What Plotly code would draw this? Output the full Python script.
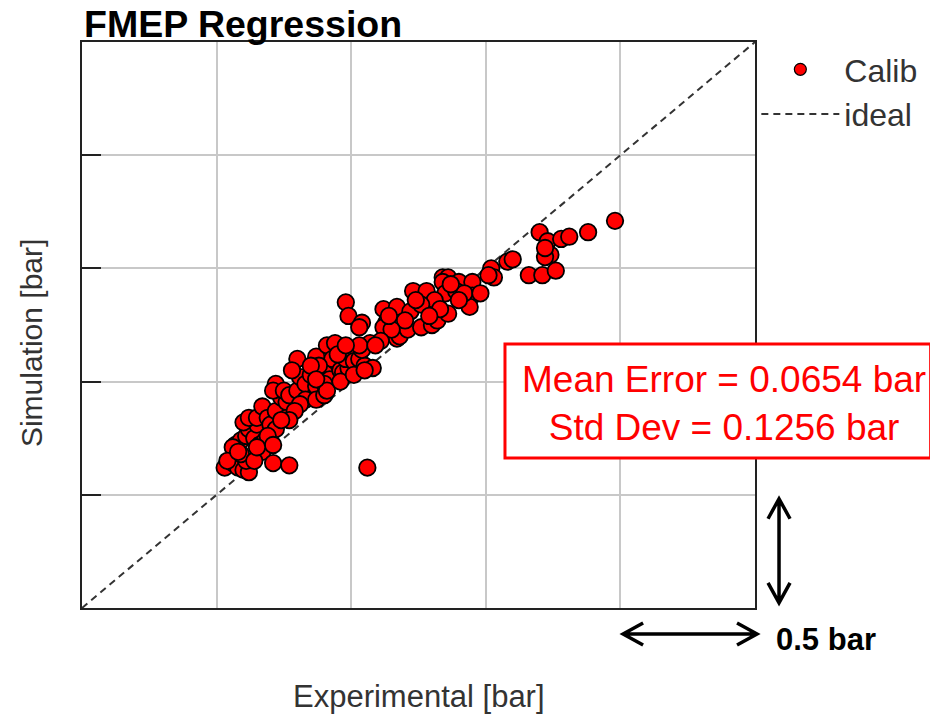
import plotly.graph_objects as go

# Axis extent and grid spacing (bar)
X_MAX = 2.5
Y_MAX = 2.5
GRID_STEP = 0.5
SCALE_BAR = 0.5

# Calibration points: experimental vs simulated FMEP (bar)
exp_fmep = [
    0.53, 0.56, 0.58, 0.60, 0.62, 0.61, 0.59, 0.57, 0.59, 0.61, 0.62, 0.64, 0.66,
    0.67, 0.68, 0.65, 0.60, 0.62, 0.65, 0.67, 0.69, 0.70, 0.72, 0.69, 0.71, 0.71,
    0.77, 0.72, 0.74, 0.76, 0.76, 0.72, 0.71, 0.75, 0.77, 0.80, 0.81, 0.80, 0.78,
    0.83, 0.85, 0.86, 0.87, 0.83, 0.81, 0.79, 0.77, 0.74, 0.64, 0.65, 0.56, 0.54,
    0.58,
    0.87, 0.90, 0.91, 0.94, 0.93, 0.92, 0.96, 0.97, 0.99, 0.98, 1.00, 1.01, 1.03,
    1.05, 1.08, 1.07, 1.04, 1.03, 0.88, 0.90, 0.95, 0.98, 0.87, 0.90, 0.91, 0.96,
    1.01, 1.05, 0.85, 0.87,
    0.98, 0.99, 1.04, 1.03,
    1.12, 1.13, 1.17, 1.17, 1.12, 1.18, 1.21, 1.22, 1.23, 1.26, 1.28, 1.28, 1.30,
    1.32, 1.34, 1.36, 1.34, 1.35, 1.36, 1.40, 1.45, 1.45, 1.44, 1.39, 1.42, 1.31,
    1.26, 1.20, 1.15, 1.11, 1.09, 1.14, 1.24, 1.37, 1.40, 1.33, 1.29,
    1.48, 1.52, 1.53, 1.51, 1.58, 1.60, 1.66, 1.70, 1.71, 1.73, 1.73, 1.74, 1.72,
    1.76, 1.78, 1.81, 1.88, 1.98, 1.72,
    1.06,
]
sim_fmep = [
    0.62, 0.64, 0.62, 0.61, 0.60, 0.65, 0.68, 0.72, 0.74, 0.76, 0.79, 0.75, 0.72,
    0.69, 0.74, 0.81, 0.82, 0.84, 0.84, 0.89, 0.84, 0.81, 0.79, 0.76, 0.72, 0.64,
    0.63, 0.87, 0.93, 0.91, 0.84, 0.99, 0.96, 0.96, 0.94, 0.96, 1.02, 1.10, 1.05,
    0.99, 1.03, 0.93, 0.98, 0.92, 0.90, 0.87, 0.83, 0.83, 0.65, 0.71, 0.71, 0.65,
    0.69,
    1.11, 1.04, 1.16, 1.17, 1.10, 1.01, 1.05, 1.04, 1.06, 1.10, 1.14, 1.09, 1.10,
    1.07, 1.06, 1.17, 1.14, 1.16, 1.07, 0.99, 1.12, 1.16, 0.92, 0.94, 0.96, 1.00,
    1.03, 1.05, 1.07, 1.01,
    1.35, 1.29, 1.26, 1.24,
    1.32, 1.26, 1.33, 1.19, 1.24, 1.20, 1.23, 1.31, 1.40, 1.24, 1.37, 1.40, 1.25,
    1.27, 1.46, 1.46, 1.44, 1.39, 1.30, 1.44, 1.44, 1.38, 1.33, 1.40, 1.39, 1.36,
    1.34, 1.27, 1.23, 1.18, 1.16, 1.29, 1.36, 1.43, 1.36, 1.32, 1.29,
    1.39, 1.50, 1.46, 1.47, 1.53, 1.54, 1.47, 1.66, 1.47, 1.62, 1.57, 1.56, 1.55,
    1.49, 1.63, 1.64, 1.66, 1.71, 1.59,
    0.62,
]

# Ideal agreement line y = x across the full axis
ideal_line = [0.0, X_MAX]

mean_error = 0.0654
std_dev = 0.1256

FONT = "Liberation Sans, Arial, sans-serif"
RED = "#ff0000"

fig = go.Figure()

fig.add_trace(go.Scatter(
    x=ideal_line, y=ideal_line, mode="lines", name="ideal", legendrank=2,
    line=dict(color="#333333", width=2, dash="7px,5px"),
    hoverinfo="skip",
))
fig.add_trace(go.Scatter(
    x=exp_fmep, y=sim_fmep, mode="markers", name="Calib", showlegend=False,
    legendgroup="calib",
    marker=dict(size=16.5, color=RED, line=dict(color="#000000", width=1.8)),
))
# Legend entry for the calibration points with a smaller symbol
fig.add_trace(go.Scatter(
    x=[None], y=[None], mode="markers", name="Calib", legendrank=1,
    legendgroup="calib",
    marker=dict(size=12, color=RED, line=dict(color="#000000", width=1.2)),
))

axis_common = dict(
    dtick=GRID_STEP, tick0=0, showgrid=True, gridcolor="#c8c8c8", gridwidth=1.5,
    showticklabels=False, showline=True, linecolor="#222222", linewidth=2,
    mirror=True, zeroline=False,
)

# Plot-area geometry in pixels, used to place the scale arrows
PLOT_W = 930 - 82 - 175
PLOT_H = 717 - 42 - 109
arm_x = 20 / PLOT_W
arm_y = 11 / PLOT_H

# Horizontal 0.5 bar arrow under the right end of the x axis
hx0 = (X_MAX - SCALE_BAR) / X_MAX + 0.004
hx1 = 1.003
hy = -0.046
h_path = (f"M {hx0 + arm_x},{hy + arm_y} L {hx0},{hy} L {hx0 + arm_x},{hy - arm_y} "
          f"M {hx0},{hy} L {hx1},{hy} "
          f"M {hx1 - arm_x},{hy + arm_y} L {hx1},{hy} L {hx1 - arm_x},{hy - arm_y}")

# Vertical 0.5 bar arrow beside the bottom of the y axis
varm_y = 20 / PLOT_H
varm_x = 11 / PLOT_W
vx = 1.0357
vy0 = 0.009
vy1 = SCALE_BAR / Y_MAX - 0.007
v_path = (f"M {vx - varm_x},{vy0 + varm_y} L {vx},{vy0} L {vx + varm_x},{vy0 + varm_y} "
          f"M {vx},{vy0} L {vx},{vy1} "
          f"M {vx - varm_x},{vy1 - varm_y} L {vx},{vy1} L {vx + varm_x},{vy1 - varm_y}")

fig.update_layout(
    width=930, height=717,
    margin=dict(l=82, r=175, t=42, b=109, autoexpand=False),
    paper_bgcolor="white", plot_bgcolor="white",
    font=dict(family=FONT, color="#333333"),
    xaxis=dict(range=[0, X_MAX], ticks="", **axis_common),
    yaxis=dict(range=[0, Y_MAX], ticks="inside", ticklen=19, tickwidth=2,
               tickcolor="#222222", **axis_common),
    showlegend=True,
    legend=dict(
        x=1.002, xanchor="left", y=1.0, yanchor="top",
        font=dict(family=FONT, size=32, color="#333333"),
        itemwidth=78, tracegroupgap=0, bgcolor="rgba(0,0,0,0)",
        itemsizing="trace",
    ),
    shapes=[
        dict(type="rect", xref="paper", yref="paper", layer="above",
             x0=0.6285, x1=1.261, y0=0.265, y1=0.4664,
             fillcolor="white", line=dict(color=RED, width=3)),
        dict(type="path", xref="paper", yref="paper", path=h_path,
             line=dict(color="black", width=3.5)),
        dict(type="path", xref="paper", yref="paper", path=v_path,
             line=dict(color="black", width=3.5)),
    ],
    annotations=[
        dict(text="<b>FMEP Regression</b>", xref="paper", yref="paper",
             x=0.0, y=1.0, xanchor="left", yanchor="bottom", yshift=-5,
             showarrow=False, font=dict(family=FONT, size=37.5, color="#000000")),
        dict(text="Simulation [bar]", xref="paper", yref="paper",
             x=-0.0758, y=0.468, xanchor="center", yanchor="middle",
             textangle=-90, showarrow=False,
             font=dict(family=FONT, size=30, color="#333333")),
        dict(text="Experimental [bar]", xref="paper", yref="paper",
             x=0.5, y=-0.157, xanchor="center", yanchor="middle",
             showarrow=False, font=dict(family=FONT, size=31, color="#333333")),
        dict(text=f"Mean Error = {mean_error:.4f} bar<br>Std Dev = {std_dev:.4f} bar",
             xref="paper", yref="paper", x=0.9532, y=0.362,
             xanchor="center", yanchor="middle", align="center",
             showarrow=False, font=dict(family=FONT, size=37, color=RED)),
        dict(text=f"<b>{SCALE_BAR} bar</b>", xref="paper", yref="paper",
             x=1.0287, y=-0.0565, xanchor="left", yanchor="middle",
             showarrow=False, font=dict(family=FONT, size=31, color="#000000")),
    ],
)

fig.write_html("out.html")
